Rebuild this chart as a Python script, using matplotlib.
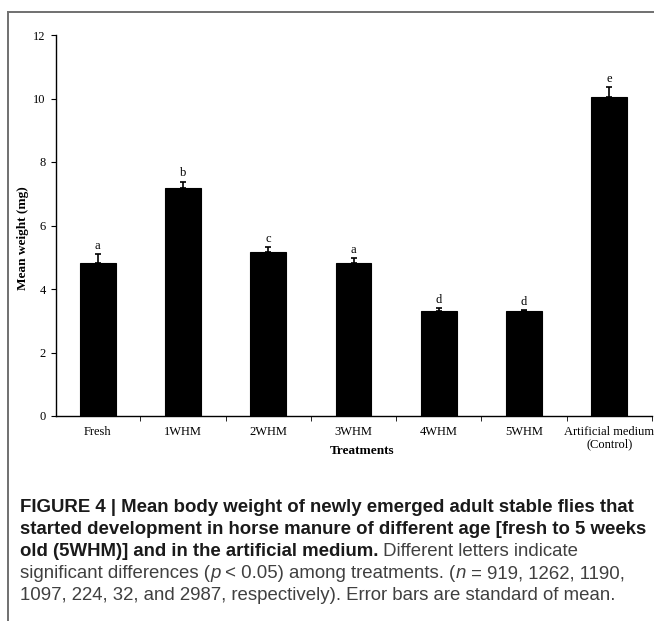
import matplotlib
matplotlib.use("Agg")
import matplotlib.pyplot as plt
from matplotlib.lines import Line2D

treatments = ["Fresh", "1WHM", "2WHM", "3WHM", "4WHM", "5WHM", "Artificial medium\n(Control)"]
mean_weight = [4.82, 7.18, 5.16, 4.82, 3.31, 3.31, 10.05]
sem = [0.27, 0.20, 0.17, 0.15, 0.09, 0.03, 0.31]
letters = ["a", "b", "c", "a", "d", "d", "e"]

W, H = 654, 621
fig = plt.figure(figsize=(W / 100, H / 100), dpi=100)
serif = "Liberation Serif"

# chart area
ax = fig.add_axes([56 / W, 1 - 416 / H, (652 - 56) / W, (416 - 35) / H])
x = range(len(treatments))
ax.bar(x, mean_weight, width=0.42, color="black", edgecolor="black", linewidth=0.8)
ax.errorbar(x, mean_weight, yerr=[[0] * len(sem), sem], fmt="none",
            ecolor="black", elinewidth=1.2, capsize=2.3, capthick=1.2)
for i in x:
    ax.text(i, mean_weight[i] + sem[i] + 0.07, letters[i], ha="center", va="bottom",
            fontsize=9, family=serif)

ax.set_xlim(-0.49, 6.5)
ax.set_ylim(0, 12)
ax.set_yticks([0, 2, 4, 6, 8, 10, 12])
ax.set_xticks(list(x))
ax.set_xticklabels(treatments, family=serif, fontsize=9, linespacing=1.05)
ax.set_xticks([i + 0.5 for i in x], minor=True)
ax.tick_params(axis="x", which="major", length=0, pad=7)
ax.tick_params(axis="x", which="minor", length=3.5, direction="out")
ax.tick_params(axis="y", length=3.5, labelsize=9, pad=4)
for lab in ax.get_yticklabels():
    lab.set_family(serif)
for s in ["top", "right"]:
    ax.spines[s].set_visible(False)
ax.spines["left"].set_linewidth(1)
ax.spines["bottom"].set_linewidth(1)
ax.set_ylabel("Mean weight (mg)", family=serif, fontweight="bold", fontsize=9.5)
ax.yaxis.set_label_coords((29 - 56) / 596, (416 - 238) / 381)
ax.set_xlabel("Treatments", family=serif, fontweight="bold", fontsize=9.5)
ax.xaxis.set_label_coords((362 - 56) / 596, (416 - 451) / 381)
ax.xaxis.label.set_va("center")

# frame lines
fig.add_artist(Line2D([8 / W, 8 / W], [0, 1 - 12 / H], transform=fig.transFigure, color="#707070", lw=1.4))
fig.add_artist(Line2D([8 / W, 1], [1 - 12 / H, 1 - 12 / H], transform=fig.transFigure, color="#707070", lw=1.4))

# caption
cap_font = "Liberation Sans"
cap_size = 13.4
renderer = fig.canvas.get_renderer()


def put_runs(runs, ypix):
    xpix = 20
    for txt, weight, style in runs:
        t = fig.text(xpix / W, 1 - ypix / H, txt, family=cap_font, fontsize=cap_size,
                     fontweight=weight, fontstyle=style, va="center", ha="left",
                     color="#1a1a1a" if weight == "bold" else "#404040")
        bb = t.get_window_extent(renderer)
        xpix += bb.width


put_runs([("FIGURE 4 | Mean body weight of newly emerged adult stable flies that", "bold", "normal")], 507)
put_runs([("started development in horse manure of different age [fresh to 5 weeks", "bold", "normal")], 529)
put_runs([("old (5WHM)] and in the artificial medium.", "bold", "normal"),
          (" Different letters indicate", "normal", "normal")], 551)
put_runs([("significant differences (", "normal", "normal"), ("p", "normal", "italic"),
          (" < 0.05) among treatments. (", "normal", "normal"), ("n", "normal", "italic"),
          (" = 919, 1262, 1190,", "normal", "normal")], 574)
put_runs([("1097, 224, 32, and 2987, respectively). Error bars are standard of mean.", "normal", "normal")], 596)

fig.savefig("out.png", dpi=100)
